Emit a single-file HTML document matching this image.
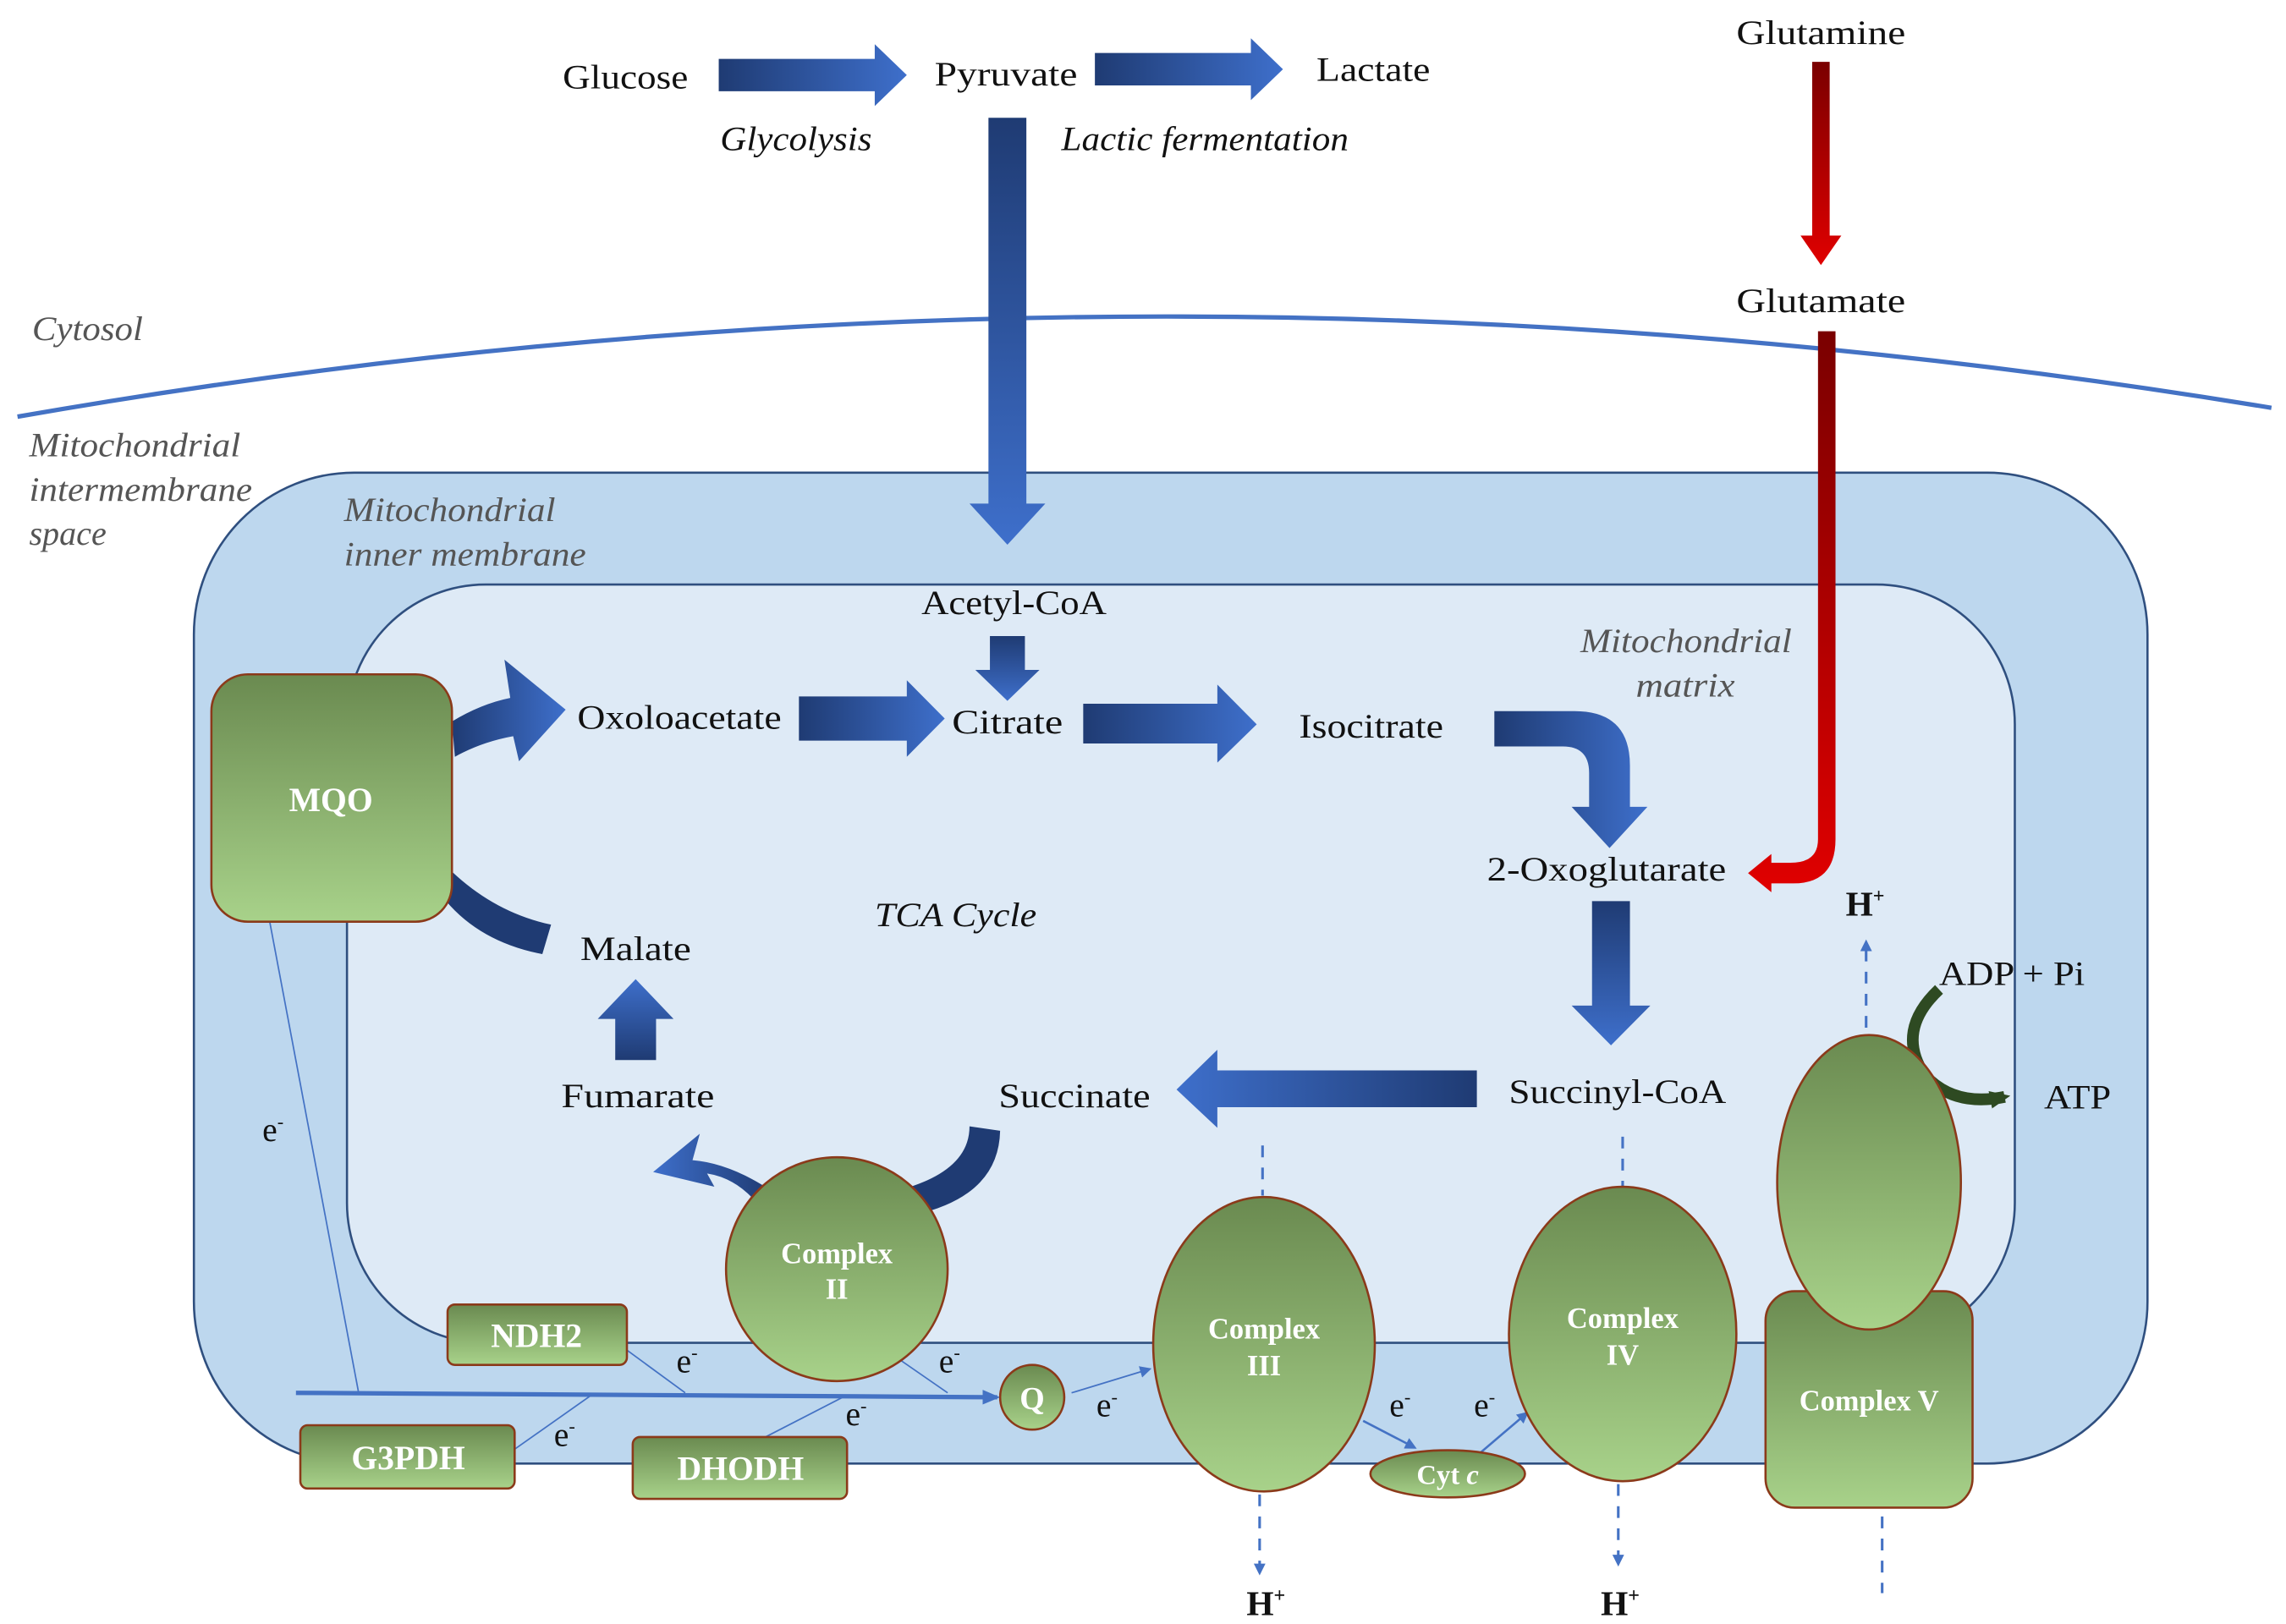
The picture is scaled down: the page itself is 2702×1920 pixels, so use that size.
<!DOCTYPE html>
<html><head><meta charset="utf-8"><style>
html,body{margin:0;padding:0;background:#fff}
svg{display:block}
text{font-family:"Liberation Serif",serif}
</style></head><body>
<svg width="2702" height="1920" viewBox="0 0 1568 1103" preserveAspectRatio="none" xmlns="http://www.w3.org/2000/svg">
<defs>
<linearGradient id="bh" x1="0" y1="0" x2="1" y2="0"><stop offset="0" stop-color="#1F3B73"/><stop offset="1" stop-color="#3E6FCB"/></linearGradient>
<linearGradient id="bhr" x1="1" y1="0" x2="0" y2="0"><stop offset="0" stop-color="#1F3B73"/><stop offset="1" stop-color="#3E6FCB"/></linearGradient>
<linearGradient id="bv" x1="0" y1="0" x2="0" y2="1"><stop offset="0" stop-color="#1F3B73"/><stop offset="1" stop-color="#3E6FCB"/></linearGradient>
<linearGradient id="bvr" x1="0" y1="1" x2="0" y2="0"><stop offset="0" stop-color="#1F3B73"/><stop offset="1" stop-color="#3E6FCB"/></linearGradient>
<linearGradient id="rv" x1="0" y1="0" x2="0" y2="1"><stop offset="0" stop-color="#7A0000"/><stop offset="1" stop-color="#E00000"/></linearGradient>
<linearGradient id="g" x1="0" y1="0" x2="0" y2="1"><stop offset="0" stop-color="#6A8A50"/><stop offset="1" stop-color="#A8D28A"/></linearGradient>
<marker id="ah" markerWidth="8" markerHeight="8" refX="6" refY="4" orient="auto" markerUnits="userSpaceOnUse"><path d="M0,0 L8,4 L0,8 z" fill="#4472C4"/></marker>
<marker id="ahb" markerWidth="12" markerHeight="10" refX="10" refY="5" orient="auto" markerUnits="userSpaceOnUse"><path d="M0,0 L12,5 L0,10 z" fill="#4472C4"/></marker>
<marker id="ahk" markerWidth="14" markerHeight="12" refX="10" refY="6" orient="auto" markerUnits="userSpaceOnUse"><path d="M0,0 L14,6 L0,12 z" fill="#2E4A22"/></marker>
</defs>
<path d="M12,283 Q780,150 1558,277" fill="none" stroke="#4472C4" stroke-width="3"/>
<rect x="133" y="321" width="1340" height="673" rx="110" fill="#BDD7EE" stroke="#2F4F7F" stroke-width="1.5"/>
<rect x="238" y="397" width="1144" height="515" rx="95" fill="#DEEAF6" stroke="#2F4F7F" stroke-width="1.5"/>
<g fill="#555" font-style="italic" font-size="23" lengthAdjust="spacingAndGlyphs">
<text x="22" y="231" textLength="76" lengthAdjust="spacingAndGlyphs">Cytosol</text>
<text x="20" y="310" textLength="145" lengthAdjust="spacingAndGlyphs">Mitochondrial</text><text x="20" y="340" textLength="153" lengthAdjust="spacingAndGlyphs">intermembrane</text><text x="20" y="370" textLength="53" lengthAdjust="spacingAndGlyphs">space</text>
<text x="236" y="354" textLength="145" lengthAdjust="spacingAndGlyphs">Mitochondrial</text><text x="236" y="384" textLength="166" lengthAdjust="spacingAndGlyphs">inner membrane</text>
<text x="1084" y="443" textLength="145" lengthAdjust="spacingAndGlyphs">Mitochondrial</text><text x="1122" y="473" textLength="68" lengthAdjust="spacingAndGlyphs">matrix</text>
</g>
<g font-size="23" fill="#111">
<text x="386" y="60" textLength="86" lengthAdjust="spacingAndGlyphs">Glucose</text><text x="641" y="58" textLength="98" lengthAdjust="spacingAndGlyphs">Pyruvate</text><text x="903" y="55" textLength="78" lengthAdjust="spacingAndGlyphs">Lactate</text>
<text x="1191" y="30" textLength="116" lengthAdjust="spacingAndGlyphs">Glutamine</text><text x="1191" y="212" textLength="116" lengthAdjust="spacingAndGlyphs">Glutamate</text>
<text x="632" y="417" textLength="127" lengthAdjust="spacingAndGlyphs">Acetyl-CoA</text><text x="396" y="495" textLength="140" lengthAdjust="spacingAndGlyphs">Oxoloacetate</text><text x="653" y="498" textLength="76" lengthAdjust="spacingAndGlyphs">Citrate</text>
<text x="891" y="501" textLength="99" lengthAdjust="spacingAndGlyphs">Isocitrate</text><text x="1020" y="598" textLength="164" lengthAdjust="spacingAndGlyphs">2-Oxoglutarate</text><text x="1035" y="749" textLength="149" lengthAdjust="spacingAndGlyphs">Succinyl-CoA</text>
<text x="685" y="752" textLength="104" lengthAdjust="spacingAndGlyphs">Succinate</text><text x="385" y="752" textLength="105" lengthAdjust="spacingAndGlyphs">Fumarate</text><text x="398" y="652" textLength="76" lengthAdjust="spacingAndGlyphs">Malate</text>
<text x="1330" y="669" textLength="100" lengthAdjust="spacingAndGlyphs">ADP + Pi</text><text x="1402" y="753" textLength="46" lengthAdjust="spacingAndGlyphs">ATP</text>
<text x="180" y="775">e<tspan font-size="13" dy="-9">-</tspan></text>
<text x="464" y="932">e<tspan font-size="13" dy="-9">-</tspan></text>
<text x="644" y="932">e<tspan font-size="13" dy="-9">-</tspan></text>
<text x="380" y="982">e<tspan font-size="13" dy="-9">-</tspan></text>
<text x="580" y="968">e<tspan font-size="13" dy="-9">-</tspan></text>
<text x="752" y="962">e<tspan font-size="13" dy="-9">-</tspan></text>
<text x="953" y="962">e<tspan font-size="13" dy="-9">-</tspan></text>
<text x="1011" y="962">e<tspan font-size="13" dy="-9">-</tspan></text>
</g>
<g font-size="23" font-style="italic" fill="#111">
<text x="494" y="102" textLength="104" lengthAdjust="spacingAndGlyphs">Glycolysis</text><text x="728" y="102" textLength="197" lengthAdjust="spacingAndGlyphs">Lactic fermentation</text><text x="600" y="629" textLength="111" lengthAdjust="spacingAndGlyphs">TCA Cycle</text>
</g>
<g font-size="24" font-weight="bold" fill="#111">
<text x="1266" y="622">H<tspan font-size="14" dy="-9">+</tspan></text>
<text x="855" y="1097">H<tspan font-size="14" dy="-9">+</tspan></text>
<text x="1098" y="1097">H<tspan font-size="14" dy="-9">+</tspan></text>
</g>
<path d="M493,40 H600 V30 L622,51 L600,72 V62 H493 z" fill="url(#bh)"/>
<path d="M751,36 H858 V26 L880,47 L858,68 V58 H751 z" fill="url(#bh)"/>
<path d="M678,80 H704 V342 H717 L691,370 L665,342 H678 z" fill="url(#bv)"/>
<path d="M679,432 H703 V455 H713 L691,476 L669,455 H679 z" fill="url(#bv)"/>
<path d="M548,473 H622 V462 L648,488 L622,514 V503 H548 z" fill="url(#bh)"/>
<path d="M743,478 H835 V465 L862,492 L835,518 V505 H743 z" fill="url(#bh)"/>
<path d="M1025,483 H1080 Q1118,483 1118,520 V548 H1130 L1104,576 L1078,548 H1090 V525 Q1090,507 1072,507 H1025 z" fill="url(#bh)"/>
<path d="M1092,612 H1118 V683 H1132 L1105,710 L1078,683 H1092 z" fill="url(#bv)"/>
<path d="M1013,727 H835 V713 L807,740 L835,766 V752 H1013 z" fill="url(#bhr)"/>
<path d="M422,720 H450 V692 H462 L436,665 L410,692 H422 z" fill="url(#bvr)"/>
<path d="M1243,42 H1255 V160 H1263 L1249,180 L1235,160 H1243 z" fill="url(#rv)"/>
<path d="M1247,225 H1259 V570 Q1259,600 1230,600 H1215 V606 L1199,593 L1215,580 V586 H1228 Q1247,586 1247,570 z" fill="url(#rv)"/>
<path d="M310,490 Q330,478 350,474 L346,448 L388,482 L356,517 L352,500 Q330,504 312,514 z" fill="url(#bh)"/>
<path d="M310,592 Q340,620 378,628 L372,648 Q330,640 306,612 z" fill="#1F3B73"/>
<path d="M528,808 Q500,790 475,788 L480,770 L448,796 L490,806 L485,797 Q505,800 520,818 z" fill="url(#bhr)"/>
<path d="M618,808 Q665,795 665,765 L686,768 Q685,812 628,825 z" fill="#1F3B73"/>
<g stroke="#4472C4" stroke-width="1" fill="none">
<line x1="185" y1="626" x2="246" y2="946"/>
<line x1="430" y1="917" x2="470" y2="946"/>
<line x1="352" y1="985" x2="405" y2="948"/>
<line x1="525" y1="976" x2="580" y2="948"/>
<line x1="615" y1="922" x2="650" y2="946"/>
<line x1="735" y1="946" x2="788" y2="930" marker-end="url(#ah)"/>
<line x1="935" y1="965" x2="970" y2="983" stroke-width="1.5" marker-end="url(#ah)"/>
<line x1="1015" y1="987" x2="1047" y2="960" stroke-width="1.5" marker-end="url(#ah)"/>
</g>
<line x1="203" y1="946" x2="684" y2="949" stroke="#4472C4" stroke-width="3" marker-end="url(#ahb)"/>
<g stroke="#4472C4" stroke-width="1.8" stroke-dasharray="8,7" fill="none">
<line x1="866" y1="778" x2="866" y2="812"/>
<line x1="1113" y1="772" x2="1113" y2="806"/>
<line x1="864" y1="1015" x2="864" y2="1068" marker-end="url(#ah)"/>
<line x1="1110" y1="1008" x2="1110" y2="1062" marker-end="url(#ah)"/>
<line x1="1280" y1="698" x2="1280" y2="640" marker-end="url(#ah)"/>
<line x1="1291" y1="1030" x2="1291" y2="1082"/>
</g>
<path d="M1330,672 Q1300,700 1320,730 Q1340,752 1375,745" fill="none" stroke="#2E4A22" stroke-width="8" marker-end="url(#ahk)"/>
<g stroke="#8B3A1A" stroke-width="1.5" fill="url(#g)">
<rect x="145" y="458" width="165" height="168" rx="25"/>
<circle cx="574" cy="862" r="76"/>
<ellipse cx="867" cy="913" rx="76" ry="100"/>
<ellipse cx="1113" cy="906" rx="78" ry="100"/>
<rect x="1211" y="877" width="142" height="147" rx="20"/>
<ellipse cx="1282" cy="803" rx="63" ry="100"/>
<ellipse cx="993" cy="1001" rx="53" ry="16"/>
<circle cx="708" cy="949" r="22"/>
<rect x="307" y="886" width="123" height="41" rx="5"/>
<rect x="206" y="968" width="147" height="43" rx="5"/>
<rect x="434" y="976" width="147" height="42" rx="5"/>
</g>
<g fill="#fff" font-weight="bold" text-anchor="middle">
<text x="227" y="551" font-size="23">MQO</text>
<text x="574" y="858" font-size="20">Complex</text><text x="574" y="882" font-size="20">II</text>
<text x="867" y="909" font-size="20">Complex</text><text x="867" y="934" font-size="20">III</text>
<text x="1113" y="902" font-size="20">Complex</text><text x="1113" y="927" font-size="20">IV</text>
<text x="1282" y="958" font-size="20">Complex V</text>
<text x="993" y="1008" font-size="19">Cyt <tspan font-style="italic">c</tspan></text>
<text x="708" y="957" font-size="22">Q</text>
<text x="368" y="915" font-size="23">NDH2</text>
<text x="280" y="998" font-size="23">G3PDH</text>
<text x="508" y="1005" font-size="23">DHODH</text>
</g>
</svg>
</body></html>
